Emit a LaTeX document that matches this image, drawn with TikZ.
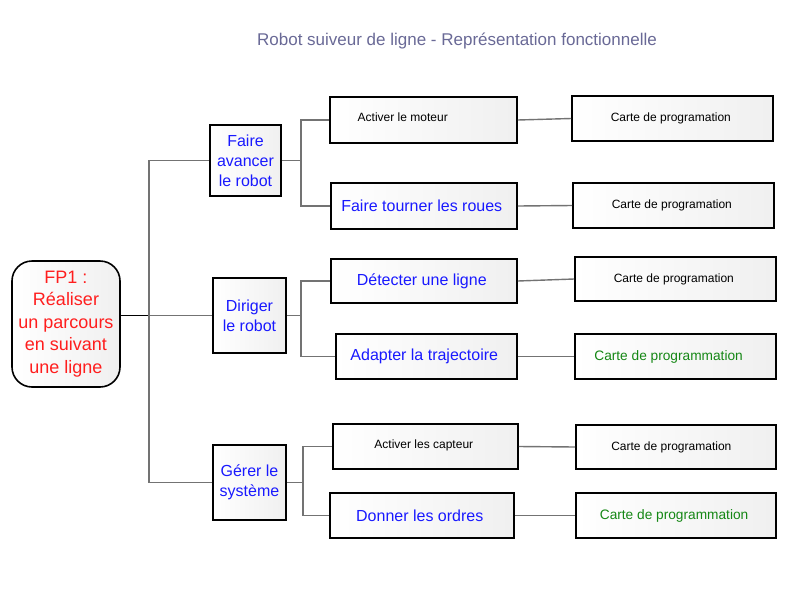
\documentclass[tikz,border=0pt]{standalone}
\usepackage{fontspec}
\setmainfont{Liberation Sans}

\definecolor{fpred}{RGB}{255,30,30}
\definecolor{fpblue}{RGB}{25,25,255}
\definecolor{fpgreen}{RGB}{20,135,20}
\definecolor{titlegray}{RGB}{105,105,150}

\tikzset{
  box/.style={draw, line width=1.6pt, left color=white, right color=black!6,
    inner sep=0pt, align=center},
  link/.style={draw=black!55, line width=1.4pt},
  small/.style={font=\fontsize{12}{14}\selectfont},
  big/.style={font=\fontsize{16}{20}\selectfont, text=fpblue},
  green/.style={text=fpgreen, font=\fontsize{13.7}{16}\selectfont},
}

\begin{document}
\begin{tikzpicture}[x=1pt,y=-1pt]
  \useasboundingbox (0,0) rectangle (800,600);

  \node [text=titlegray, font=\fontsize{17}{20}\selectfont] (title) at (457,41) { Robot suiveur de ligne - Représentation fonctionnelle };

  \node [box, rounded corners=20pt, minimum width=108, minimum height=126, text=fpred,
    font=\fontsize{18}{22.5}\selectfont] (fp1) at (66,324) { FP1 :\\Réaliser\\un parcours\\en suivant\\une ligne };

  \node [box, big, minimum width=71, minimum height=71] (avancer) at (245.5,160.5) { Faire\\avancer\\le robot };
  \node [box, big, minimum width=73, minimum height=75] (diriger) at (249.5,315.5) { Diriger\\le robot };
  \node [box, big, minimum width=73, minimum height=75] (gerer) at (249.5,482.5) { Gérer le\\système };

  \node [box, minimum width=187, minimum height=46,
    label={[small, anchor=west, xshift=25pt, yshift=3pt]west:Activer le moteur}] (moteur) at (423.5,120) {};
  \node [box, big, minimum width=186, minimum height=46] (roues) at (424,206) { Faire tourner les roues };
  \node [box, big, minimum width=186, minimum height=44] (detecter) at (424,281) { Détecter une ligne };
  \node [box, big, minimum width=181, minimum height=45] (adapter) at (426.5,356.5) { Adapter la trajectoire };
  \node [box, small, minimum width=185, minimum height=45] (capteur) at (425.5,446.5) { \raisebox{4pt}{Activer les capteur} };
  \node [box, big, minimum width=184, minimum height=45] (ordres) at (422,515.5) { Donner les ordres };

  \node [box, small, minimum width=201, minimum height=45] (carte1) at (672.5,118.5) { Carte de programation };
  \node [box, small, minimum width=201, minimum height=45] (carte2) at (673.5,205.5) { Carte de programation };
  \node [box, small, minimum width=201, minimum height=44] (carte3) at (675.5,279) { Carte de programation };
  \node [box, green, minimum width=201, minimum height=45] (carte4) at (675.5,356.5) { \hspace*{-10pt}Carte de programmation };
  \node [box, small, minimum width=200, minimum height=44] (carte5) at (676,447) { \hspace*{-6pt}Carte de programation };
  \node [box, green, minimum width=200, minimum height=45] (carte6) at (676,515.5) { Carte de programmation };

  % trunk
  \coordinate (t0) at (149,0);
  \draw [line width=1.4pt] (fp1.east |- diriger.west) -- (diriger.west -| t0);
  \draw [link] (diriger.west -| t0) |- (avancer.west);
  \draw [link] (diriger.west -| t0) |- (gerer.west);
  \draw [link] (diriger.west -| t0) -- (diriger.west);

  % branches
  \coordinate (t1) at (301,0);
  \coordinate (t2) at (303,0);
  \draw [link] (avancer.east) -- (avancer.east -| t1);
  \draw [link] (moteur.west) -| (t1 |- roues.west) -- (roues.west);
  \draw [link] (diriger.east) -- (diriger.east -| t1);
  \draw [link] (detecter.west) -| (t1 |- adapter.west) -- (adapter.west);
  \draw [link] (gerer.east) -- (gerer.east -| t2);
  \draw [link] (capteur.west) -| (t2 |- ordres.west) -- (ordres.west);

  % cartes
  \draw [link] (moteur.east) -- (carte1.west);
  \draw [link] (roues.east) -- (carte2.west);
  \draw [link] (detecter.east) -- (carte3.west);
  \draw [link] (adapter.east) -- (carte4.west);
  \draw [link] (capteur.east) -- (carte5.west);
  \draw [link] (ordres.east) -- (carte6.west);
\end{tikzpicture}
\end{document}
